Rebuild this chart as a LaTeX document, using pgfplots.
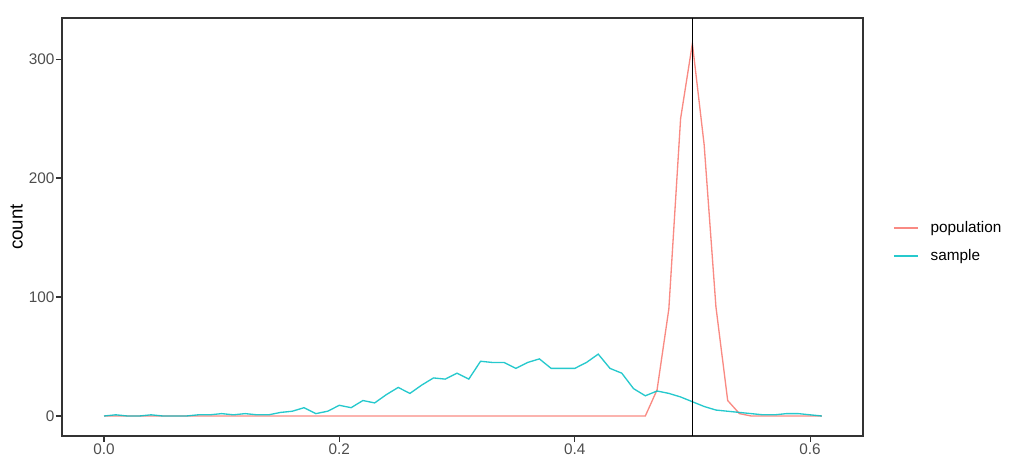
\documentclass[border=0pt]{standalone}
\usepackage{fontspec}
\setmainfont{Liberation Sans}
\usepackage{pgfplots}
\usepackage{pgfplotstable}
\pgfplotsset{compat=1.18}
\definecolor{popc}{HTML}{F8766D}
\definecolor{samc}{HTML}{00BFC4}
\definecolor{tickc}{HTML}{4D4D4D}
\definecolor{framec}{HTML}{333333}

\pgfplotstableread{
x y
0.00 0
0.01 1
0.02 0
0.03 0
0.04 1
0.05 0
0.06 0
0.07 0
0.08 1
0.09 1
0.10 2
0.11 1
0.12 2
0.13 1
0.14 1
0.15 3
0.16 4
0.17 7
0.18 2
0.19 4
0.20 9
0.21 7
0.22 13
0.23 11
0.24 18
0.25 24
0.26 19
0.27 26
0.28 32
0.29 31
0.30 36
0.31 31
0.32 46
0.33 45
0.34 45
0.35 40
0.36 45
0.37 48
0.38 40
0.39 40
0.40 40
0.41 45
0.42 52
0.43 40
0.44 36
0.45 23
0.46 17
0.47 21
0.48 19
0.49 16
0.50 12
0.51 8
0.52 5
0.53 4
0.54 3
0.55 2
0.56 1
0.57 1
0.58 2
0.59 2
0.60 1
0.61 0
}\sampletab

\pgfplotstableread{
x y
0.00 0
0.01 0
0.02 0
0.03 0
0.04 0
0.05 0
0.06 0
0.07 0
0.08 0
0.09 0
0.10 0
0.11 0
0.12 0
0.13 0
0.14 0
0.15 0
0.16 0
0.17 0
0.18 0
0.19 0
0.20 0
0.21 0
0.22 0
0.23 0
0.24 0
0.25 0
0.26 0
0.27 0
0.28 0
0.29 0
0.30 0
0.31 0
0.32 0
0.33 0
0.34 0
0.35 0
0.36 0
0.37 0
0.38 0
0.39 0
0.40 0
0.41 0
0.42 0
0.43 0
0.44 0
0.45 0
0.46 0
0.47 22
0.48 90
0.49 250
0.50 313
0.51 228
0.52 92
0.53 13
0.54 2
0.55 0
0.56 0
0.57 0
0.58 0
0.59 0
0.60 0
0.61 0
}\poptab

\begin{document}
\begin{tikzpicture}
\useasboundingbox (-46.5pt,-25.5pt) rectangle (711.75pt,327pt);
\begin{axis}[
  scale only axis,
  width=600.75pt, height=313.5pt,
  xmin=-0.0357, xmax=0.645,
  ymin=-16.8, ymax=334.5,
  xtick={0,0.2,0.4,0.6},
  xticklabels={0.0,0.2,0.4,0.6},
  ytick={0,100,200,300},
  axis line style={framec, line width=1.1pt},
  tick style={framec, line width=0.8pt},
  tick align=outside,
  major tick length=4.5pt,
  xtick pos=bottom, ytick pos=left,
  /pgf/number format/assume math mode=true,
  ticklabel style={font=\fontsize{11.5}{13}\selectfont, text=tickc},
  yticklabel style={inner sep=1pt},
  xticklabel style={inner sep=1.5pt},
  ylabel={count},
  every axis y label/.style={at={(ticklabel cs:0.5)}, rotate=90, anchor=south,
    font=\fontsize{14}{16}\selectfont},
  legend style={at={(1.0375,0.464)}, anchor=west, draw=none, fill=none,
    inner sep=0pt, font=\fontsize{11.5}{13}\selectfont, row sep=7pt,
    /tikz/every odd column/.append style={column sep=7pt}},
  legend cell align=left,
  legend image code/.code={\draw[#1] (0pt,0pt) -- (18pt,0pt);},
]
\addplot[popc, line width=1.0pt, opacity=0.85] table[x=x,y=y] {\poptab};
\addlegendentry{population}
\addplot[samc, line width=1.0pt, opacity=0.85] table[x=x,y=y] {\sampletab};
\addlegendentry{sample}
\draw[black, line width=1.0pt] ({axis cs:0.5,0}|-{rel axis cs:0,0}) -- ({axis cs:0.5,0}|-{rel axis cs:0,1});
\end{axis}
\end{tikzpicture}
\end{document}
